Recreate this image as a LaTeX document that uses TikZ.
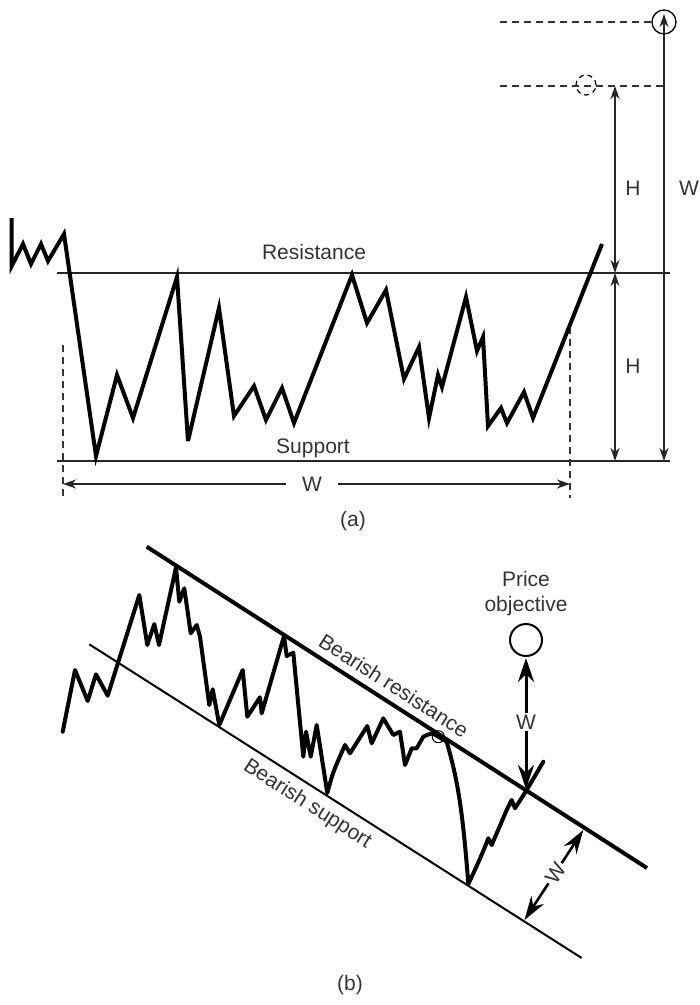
\documentclass[tikz,border=0pt]{standalone}
\usepackage{fontspec}
\setmainfont{Liberation Sans}
\usetikzlibrary{arrows.meta}
\begin{document}
\begin{tikzpicture}[x=1pt,y=-1pt,
  lbl/.style={font=\fontsize{21}{25}\selectfont, text=black!80, inner sep=0pt},
  pricea/.style={line width=4pt, line join=miter, miter limit=6},
  priceb/.style={line width=4pt, line join=round, line cap=round},
  thinline/.style={line width=1.5pt, draw=black!85},
  dimarrow/.style={line width=1.3pt, draw=black!85, {Stealth[length=13pt,width=9pt,inset=4pt]}-{Stealth[length=13pt,width=9pt,inset=4pt]}},
  dashln/.style={line width=1.3pt, dash pattern=on 7pt off 5pt, draw=black!80},
  bigarrow/.style={line width=3pt, {Stealth[length=24pt,width=16pt,inset=8pt]}-{Stealth[length=24pt,width=16pt,inset=8pt]}},
]
\useasboundingbox (0,0) rectangle (700,1005);

% ---------------- panel (a) ----------------
\coordinate (resL) at (57,273);
\coordinate (resR) at (670,273);
\coordinate (supL) at (57,461);
\coordinate (supR) at (670,461);
\draw[thinline] (resL) -- (resR);
\draw[thinline] (supL) -- (supR);

% dashed width markers
\coordinate (dlt) at (63,345);
\coordinate (dlb) at (63,498);
\coordinate (drt) at (570,327);
\coordinate (drb) at (570,498);
\draw[dashln] (dlt) -- (dlb);
\draw[dashln] (drt) -- (drb);

% W width arrow
\node[lbl, inner xsep=16pt] (wa) at (312,484) {W};
\coordinate (wal) at (63,484);
\coordinate (war) at (570,484);
\draw[line width=1.3pt, draw=black!85, -{Stealth[length=13pt,width=9pt,inset=4pt]}] (wa.west) -- (wal);
\draw[line width=1.3pt, draw=black!85, -{Stealth[length=13pt,width=9pt,inset=4pt]}] (wa.east) -- (war);

% top objective lines
\node[circle, draw, line width=1.3pt, minimum size=24pt, inner sep=0pt] (obj1) at (664,22) {};
\node[circle, draw, line width=1.2pt, dash pattern=on 5pt off 4pt, minimum size=20pt, inner sep=0pt] (obj0) at (586,85) {};
\coordinate (d1l) at (500,22);
\coordinate (d2l) at (500,86);
\coordinate (d2r) at (664,86);
\draw[dashln] (d1l) -- (obj1.west);
\draw[dashln] (d2l) -- (d2r);

% H arrows
\coordinate (hTop) at (615,86);
\coordinate (hMid) at (615,273);
\coordinate (hBot) at (615,461);
\draw[dimarrow] (hTop) -- (hMid);
\draw[dimarrow] (hMid) -- (hBot);
\node[lbl, anchor=base] (h1) at (633,195) {H};
\node[lbl, anchor=base] (h2) at (633,373) {H};

% W long arrow
\coordinate (wTop) at (664,14);
\coordinate (wBot) at (664,461);
\draw[dimarrow] (wTop) -- (wBot);
\node[lbl, anchor=base] (w1) at (689,195) {W};

% labels
\node[lbl, anchor=base] (res) at (314,259) {Resistance};
\node[lbl, anchor=base] (sup) at (313,453) {Support};
\node[lbl] (capa) at (353,521) {(a)};

% price path (a)
\draw[pricea] (11.7,218) -- (11.7,266) -- (23,244) -- (31,264) -- (41,244) -- (48,261)
  -- (64,234) -- (96,456) -- (117,375) -- (133,418) -- (177,277) -- (188,441)
  -- (219,308) -- (234,416) -- (254,386) -- (266,420) -- (282,388) -- (294,423)
  -- (352,275) -- (367,323) -- (386,290) -- (404,379) -- (419,347) -- (429,418)
  -- (438,375) -- (442,387) -- (466,297) -- (477,351) -- (483,337) -- (488,426)
  -- (501,408) -- (507,423) -- (524,392) -- (533,418) -- (602,244);

% ---------------- panel (b) ----------------
\coordinate (bresL) at (146.7,546.7);
\coordinate (bresR) at (647,868);
\coordinate (bsupL) at (89.3,644.3);
\coordinate (bsupR) at (581.7,958);
\draw[line width=4pt] (bresL) -- node[lbl, sloped, above=7pt, pos=0.476] (bres) {Bearish resistance} (bresR);
\draw[line width=2pt] (bsupL) -- node[lbl, sloped, below=7pt, pos=0.462] (bsup) {Bearish support} (bsupR);

% price path (b)
\draw[priceb] (62.7,731.7) -- (75,670) -- (87.7,701) -- (96,674.3) -- (107.7,695.7)
  -- (139.3,595) -- (147.3,645) -- (154.3,624) -- (159,645) -- (176,567.5)
  -- (179.3,601.7) -- (184.3,588.3) -- (190.7,633.3) -- (196.7,625) -- (200,636.7)
  -- (209.3,705) -- (212.7,689.3) -- (219.3,725) -- (242.7,670) -- (247.3,716.7)
  -- (260,697.3) -- (261.7,713.3) -- (284,636) -- (286.7,656) -- (293.3,652.7)
  -- (303.3,756.7) -- (306,731.7) -- (310.7,756.7) -- (316.7,725) -- (327.3,793)
  .. controls (333,772) .. (345,745) -- (350,753.3) -- (367.3,726) -- (371.7,743.3)
  -- (383.3,718.3) -- (393.3,735) -- (400,731.7) -- (405,765) -- (411.7,748.3)
  -- (416.7,748.3) -- (423.3,736.7) -- (426.7,735) -- (432.7,733.3) -- (446.7,741.7)
  .. controls (456,775) and (462,800) .. (468.3,884)
  .. controls (474,872) and (482,855) .. (488.3,838.3) -- (491.7,845) -- (506.7,810)
  -- (511.7,800) -- (515,808.3) -- (526.7,790) -- (543.3,761.7);
\node[circle, draw, line width=1pt, minimum size=12pt, inner sep=0pt] (touch) at (438.3,736.7) {};

% price objective
\node[circle, draw, line width=2pt, minimum size=32pt, inner sep=0pt] (pobj) at (526,640) {};
\node[lbl, anchor=base] (pt1) at (526,586) {Price};
\node[lbl, anchor=base] (pt2) at (526,611.5) {objective};
\coordinate (cross) at (526,789);
\coordinate (pobjb) at (526,658);
\draw[bigarrow] (pobjb) -- (cross);
\node[lbl, fill=white, inner sep=2pt] (wb1) at (526,722) {W};

% channel width arrow
\coordinate (cwTop) at (583.3,830);
\coordinate (cwBot) at (524.5,920);
\draw[line width=2.6pt, {Stealth[length=24pt,width=15pt,inset=8pt]}-{Stealth[length=24pt,width=15pt,inset=8pt]}] (cwBot) -- (cwTop);
\node[lbl, fill=white, inner sep=2pt, rotate=57] (wb2) at (555.5,873.5) {W};

\node[lbl] (capb) at (350,985) {(b)};
\end{tikzpicture}
\end{document}
